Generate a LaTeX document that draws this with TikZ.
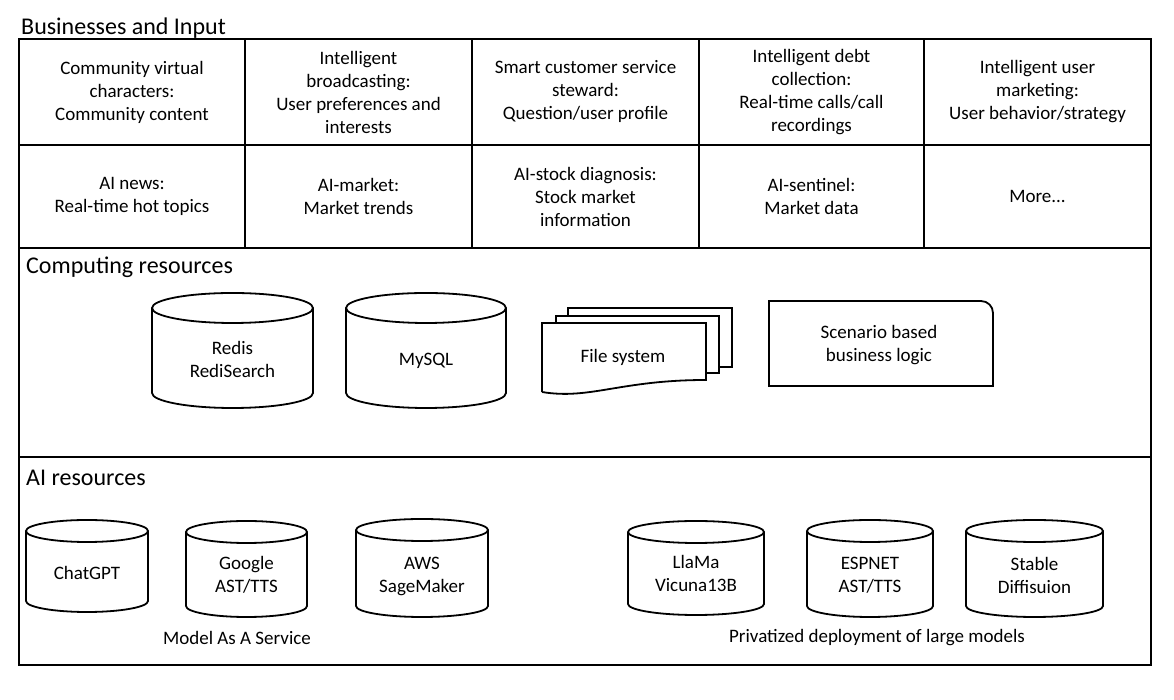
\documentclass[tikz,border=0pt]{standalone}
\usepackage{fontspec}
\setmainfont{Carlito}
\tikzset{
  frame/.style={draw, line width=2pt},
  cell/.style={draw, line width=2pt, align=center, inner sep=0pt, font=\fontsize{19}{23}\selectfont},
  lbl/.style={font=\fontsize{19}{23}\selectfont, align=center, inner sep=0pt},
  sec/.style={font=\fontsize{24}{28}\selectfont, inner sep=0pt, anchor=base west},
  shp/.style={draw, line width=1.8pt},
}
% #1 name, #2 left, #3 right, #4 top, #5 bottom, #6 ry, #7 text, #8 text y
\newcommand{\dbcyl}[8]{%
  \draw[shp] (#2,#4-#6) -- (#2,#5+#6) arc[start angle=180,end angle=360,x radius={(#3-#2)/2},y radius=#6]
     -- (#3,#4-#6) arc[start angle=0,end angle=180,x radius={(#3-#2)/2},y radius=#6] -- cycle;
  \draw[shp] (#2,#4-#6) arc[start angle=180,end angle=360,x radius={(#3-#2)/2},y radius=#6];
  \node[lbl] (#1) at ({(#2+#3)/2},#8) {#7};
}
\begin{document}
\begin{tikzpicture}[x=1pt,y=1pt]
\useasboundingbox[fill=white] (0,0) rectangle (1174,700);

\node[sec] (title) at (21,665) {Businesses and Input};

% row 1
\node[cell, minimum width=226pt, minimum height=106pt] (c11) at (132,608) {Community virtual\\characters:\\Community content};
\node[cell, minimum width=227pt, minimum height=106pt] (c12) at (358.5,608) {Intelligent\\broadcasting:\\User preferences and\\interests};
\node[cell, minimum width=227pt, minimum height=106pt] (c13) at (585.5,608) {Smart customer service\\steward:\\Question/user profile};
\node[cell, minimum width=225pt, minimum height=106pt] (c14) at (811.5,608) {Intelligent debt\\collection:\\Real-time calls/call\\recordings};
\node[cell, minimum width=227pt, minimum height=106pt] (c15) at (1037.5,608) {Intelligent user\\marketing:\\User behavior/strategy};
% row 2
\node[cell, minimum width=226pt, minimum height=103pt] (c21) at (132,503.5) {AI news:\\Real-time hot topics};
\node[cell, minimum width=227pt, minimum height=103pt] (c22) at (358.5,503.5) {AI-market:\\Market trends};
\node[cell, minimum width=227pt, minimum height=103pt] (c23) at (585.5,503.5) {AI-stock diagnosis:\\Stock market\\information};
\node[cell, minimum width=225pt, minimum height=103pt] (c24) at (811.5,503.5) {AI-sentinel:\\Market data};
\node[cell, minimum width=227pt, minimum height=103pt] (c25) at (1037.5,503.5) {More...};

% computing resources
\draw[frame] (19,243) rectangle (1151,452);
\node[sec] (comp) at (26,426) {Computing resources};
\dbcyl{redis}{152}{313}{407}{292}{15}{Redis\\RediSearch}{340.5}
\dbcyl{mysql}{346}{506}{407}{292}{15}{MySQL}{339}

\draw[shp] (568,384) -- (568,392) -- (732,392) -- (732,333) -- (719,333);
\draw[shp] (556,377) -- (556,384) -- (719,384) -- (719,327) -- (706,327);
\draw[shp] (542,308) -- (542,377) -- (706,377) -- (706,320) .. controls (620,320) and (590,300) .. (542,308);
\node[lbl] (fs) at (623,343) {File system};

\draw[shp] (769,314) -- (769,399) -- (981,399) arc[start angle=90,end angle=0,radius=12] -- (993,314) -- cycle;
\node[lbl] (logic) at (879,355) {Scenario based\\business logic};

% AI resources
\draw[frame] (19,35) rectangle (1151,243);
\node[sec] (ai) at (26,214) {AI resources};
\dbcyl{chatgpt}{26}{148}{180}{88}{11}{ChatGPT}{127}
\dbcyl{google}{186}{307}{179}{83}{11}{Google\\AST/TTS}{125.5}
\dbcyl{aws}{356}{488}{181}{83}{11}{AWS\\SageMaker}{124}
\dbcyl{llama}{628}{764}{179}{85}{11}{LlaMa\\Vicuna13B}{126.5}
\dbcyl{espnet}{807}{933}{180}{83}{11}{ESPNET\\AST/TTS}{125}
\dbcyl{stable}{966}{1103}{180}{83}{11}{Stable\\Diffisuion}{125}
\node[lbl] (maas) at (237,62) {Model As A Service};
\node[lbl] (priv) at (877,62) {Privatized deployment of large models};
\end{tikzpicture}
\end{document}
